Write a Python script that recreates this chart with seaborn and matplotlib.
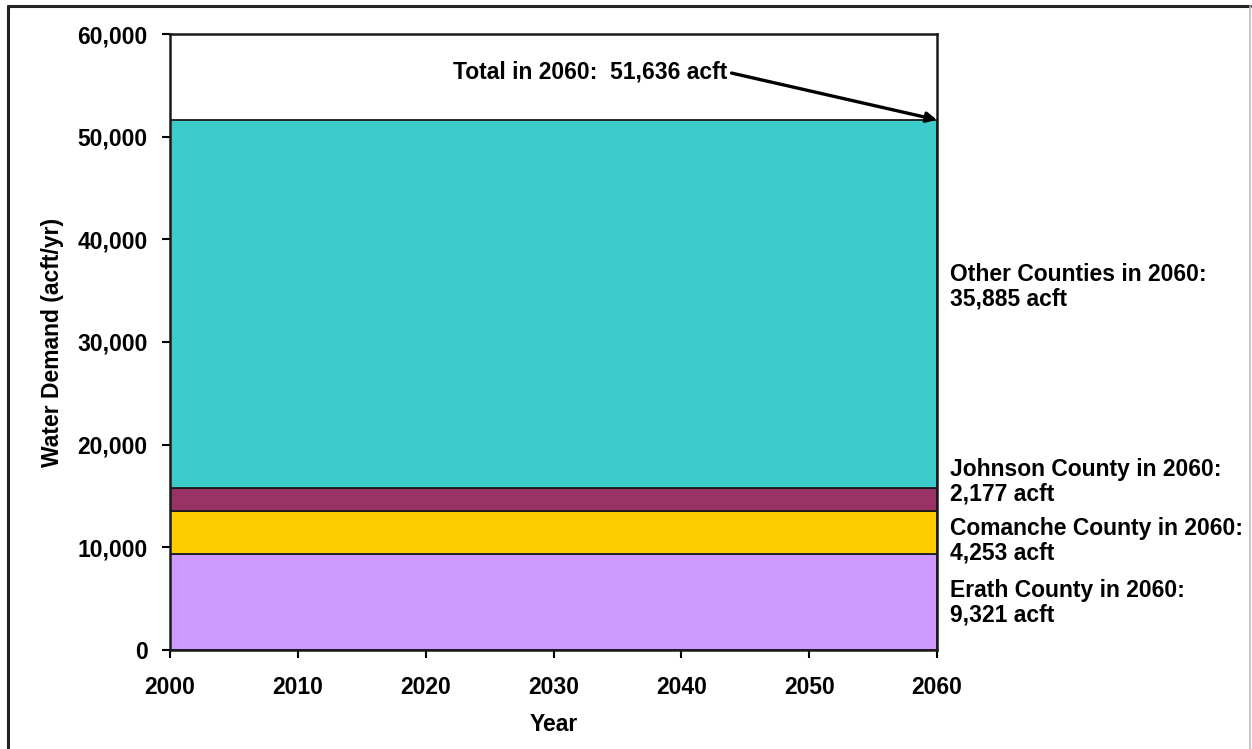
import matplotlib
matplotlib.use("Agg")
import matplotlib.pyplot as plt
import matplotlib.ticker as mticker
from matplotlib.lines import Line2D
import seaborn as sns

years = [2000, 2010, 2020, 2030, 2040, 2050, 2060]
erath = [9321, 9321, 9321, 9321, 9321, 9321, 9321]
comanche = [4253, 4253, 4253, 4253, 4253, 4253, 4253]
johnson = [2177, 2177, 2177, 2177, 2177, 2177, 2177]
other = [35885, 35885, 35885, 35885, 35885, 35885, 35885]
total_2060 = 51636

labels = ["Erath County in 2060:\n9,321 acft",
          "Comanche County in 2060:\n4,253 acft",
          "Johnson County in 2060:\n2,177 acft",
          "Other Counties in 2060:\n35,885 acft"]
colors = ["#CC99FF", "#FFCC00", "#993366", "#3CCCCC"]

sns.set_style("ticks")
plt.rcParams["font.family"] = ["Liberation Sans", "DejaVu Sans"]
plt.rcParams["font.weight"] = "bold"
for k in ["text.color", "axes.labelcolor", "xtick.color", "ytick.color"]:
    plt.rcParams[k] = "black"

fs = 16.5
fig = plt.figure(figsize=(12.52, 7.49), dpi=100)
ax = fig.add_axes([0.1358, 0.1322, 0.6126, 0.8224])

ax.stackplot(years, erath, comanche, johnson, other, colors=colors,
             edgecolor="#1a1a1a", linewidth=1.3)

ax.set_xlim(2000, 2060)
ax.set_ylim(0, 60000)
ax.set_xticks(years)
ax.set_yticks(range(0, 60001, 10000))
ax.yaxis.set_major_formatter(mticker.FuncFormatter(lambda v, p: f"{int(v):,}"))
ax.tick_params(axis="y", length=6, width=1.5, pad=10, labelsize=fs)
ax.tick_params(axis="x", length=6, width=1.5, pad=13, labelsize=fs)
for lab in ax.get_xticklabels() + ax.get_yticklabels():
    lab.set_fontweight("bold")
for s in ax.spines.values():
    s.set_linewidth(1.8)
    s.set_color("#1a1a1a")

ax.set_xlabel("Year", fontsize=fs, fontweight="bold", labelpad=10)
ax.set_ylabel("Water Demand (acft/yr)", fontsize=fs, fontweight="bold", labelpad=10)

# right-side labels
label_y = [4578, 10617, 16364, 35360]
for lab, y in zip(labels, label_y):
    ax.text(2061.0, y, lab, fontsize=fs, fontweight="bold", va="center",
            ha="left", linespacing=1.1, clip_on=False)

ax.annotate(f"Total in 2060:  {total_2060:,} acft", xy=(2060, total_2060),
            xytext=(2022.1, 56300), fontsize=fs, fontweight="bold",
            va="center", ha="left",
            arrowprops=dict(arrowstyle="-|>", color="black", lw=2.4,
                            mutation_scale=15, shrinkA=1, shrinkB=0,
                            relpos=(1.0, 0.5)))

# outer frame
fig.add_artist(Line2D([0.0064, 0.0064], [0.0, 0.992], color="#222222", lw=2.2,
                      transform=fig.transFigure))
fig.add_artist(Line2D([0.0064, 0.9985], [0.992, 0.992], color="#222222", lw=2.2,
                      transform=fig.transFigure))
fig.add_artist(Line2D([0.9985, 0.9985], [0.0, 0.992], color="#bbbbbb", lw=1.2,
                      transform=fig.transFigure))

fig.savefig("out.png", dpi=100)
